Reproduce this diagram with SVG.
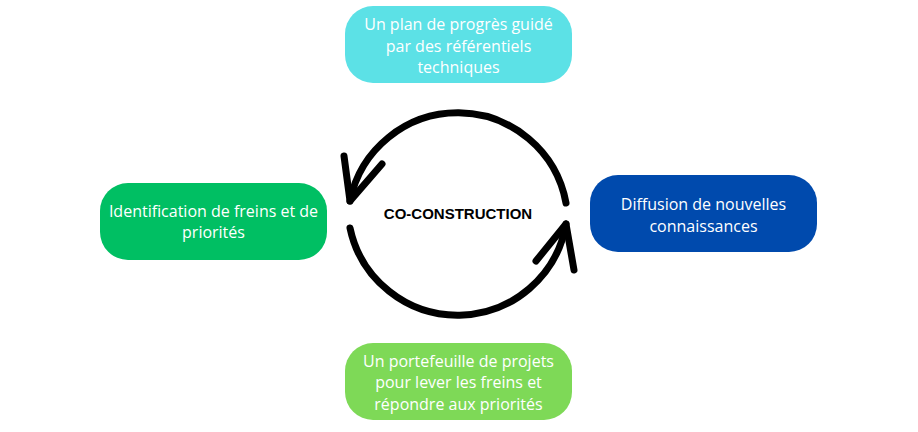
<svg xmlns="http://www.w3.org/2000/svg" width="918" height="432" viewBox="0 0 918 432">
<style>
.box text{font-family:"Open Sans","Noto Sans",sans-serif;font-size:16px;fill:#ffffff;text-anchor:middle}
.arc{fill:none;stroke:#000000;stroke-width:7;stroke-linecap:round;stroke-linejoin:round}
.title{font-family:"Liberation Sans",Arial,sans-serif;font-size:15px;font-weight:bold;fill:#000000;text-anchor:middle}
</style>
<rect width="918" height="432" fill="#ffffff"/>
<g id="node-top" class="box">
<rect x="345" y="6" width="227" height="77" rx="28" fill="#5CE1E6"/>
<text x="458.5" y="30">Un plan de progrès guidé</text>
<text x="458.5" y="52">par des référentiels</text>
<text x="458.5" y="73">techniques</text>
</g>
<g id="node-left" class="box">
<rect x="100" y="183" width="227" height="77" rx="28" fill="#00BF63"/>
<text x="213.5" y="217">Identification de freins et de</text>
<text x="213.5" y="238">priorités</text>
</g>
<g id="node-right" class="box">
<rect x="590" y="175" width="227" height="77" rx="28" fill="#004AAD"/>
<text x="703.5" y="210">Diffusion de nouvelles</text>
<text x="703.5" y="232">connaissances</text>
</g>
<g id="node-bottom" class="box">
<rect x="345" y="343" width="227" height="77" rx="28" fill="#7ED957"/>
<text x="458.5" y="367">Un portefeuille de projets</text>
<text x="458.5" y="388">pour lever les freins et</text>
<text x="458.5" y="410">répondre aux priorités</text>
</g>
<g id="node-center">
<text class="title" x="458" y="219">CO-CONSTRUCTION</text>
</g>
<g id="connectors">
<path class="arc" d="M 566 203 A 110 110 0 0 0 350 201"/>
<polyline class="arc" points="344,156 350,201 382,164"/>
<path class="arc" d="M 350 228 A 110 110 0 0 0 566 224"/>
<polyline class="arc" points="536,261 566,224 574,270"/>
</g>
</svg>
